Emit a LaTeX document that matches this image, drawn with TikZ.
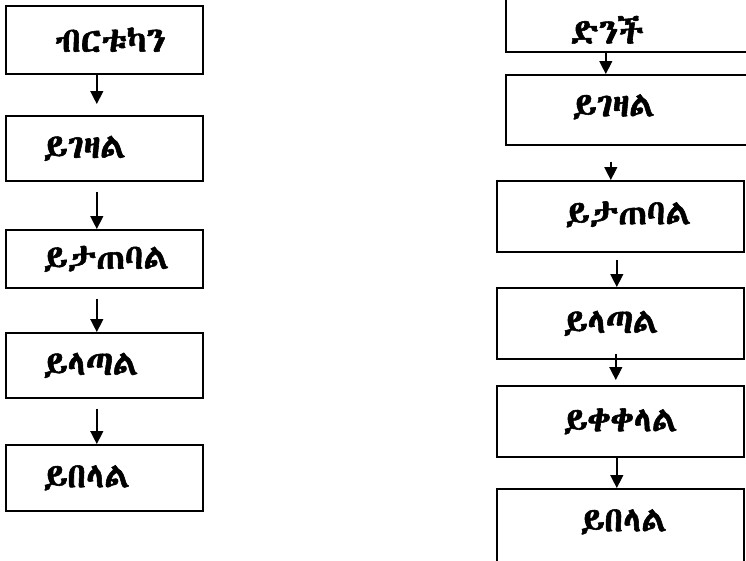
\documentclass[tikz,border=0pt]{standalone}
\usepackage{fontspec}
\newfontfamily\ethfont{Abyssinica SIL}[FakeBold=1.6]
\usetikzlibrary{arrows.meta}
\tikzset{
  box/.style={draw, line width=1.6pt, inner sep=0pt, anchor=north west},
  txt/.style={anchor=west, inner sep=0pt, font=\ethfont\fontsize{35}{40}\selectfont},
  arr/.style={line width=1.4pt, -{Triangle[width=13pt,length=13pt]}}
}
\begin{document}
\begin{tikzpicture}[x=1pt,y=-1pt]
\useasboundingbox (0,0) rectangle (746,560);
% left column
\node[box, minimum width=197pt, minimum height=68pt] (l1) at (5,5) {};
\node[box, minimum width=197pt, minimum height=65pt] (l2) at (5,115) {};
\node[box, minimum width=197pt, minimum height=58pt] (l3) at (5,229) {};
\node[box, minimum width=197pt, minimum height=65pt] (l4) at (5,332) {};
\node[box, minimum width=197pt, minimum height=66pt] (l5) at (5,444) {};
\node[txt] (l1t) at ([xshift=50pt]l1.west) {ብርቱካን};
\node[txt] (l2t) at ([xshift=38pt]l2.west) {ይገዛል};
\node[txt] (l3t) at ([xshift=38pt]l3.west) {ይታጠባል};
\node[txt] (l4t) at ([xshift=38pt]l4.west) {ይላጣል};
\node[txt] (l5t) at ([xshift=38pt]l5.west) {ይበላል};
\draw[arr, shorten >=11pt] ([xshift=-7.5pt]l1.south) -- ([xshift=-7.5pt]l2.north);
\draw[arr, shorten <=10pt] ([xshift=-7.5pt]l2.south) -- ([xshift=-7.5pt]l3.north);
\draw[arr, shorten <=10pt] ([xshift=-7.5pt]l3.south) -- ([xshift=-7.5pt]l4.north);
\draw[arr, shorten <=10pt] ([xshift=-7.5pt]l4.south) -- ([xshift=-7.5pt]l5.north);
% right column
\node[box, minimum width=250pt, minimum height=61pt] (r1) at (505,-10) {};
\node[box, minimum width=250pt, minimum height=70pt] (r2) at (505,74) {};
\node[box, minimum width=247pt, minimum height=71pt] (r3) at (496,180) {};
\node[box, minimum width=247pt, minimum height=71pt] (r4) at (496,287) {};
\node[box, minimum width=247pt, minimum height=71pt] (r5) at (496,385) {};
\node[box, minimum width=247pt, minimum height=90pt] (r6) at (496,488) {};
\node[txt] (r1t) at ([xshift=65pt,yshift=-8.5pt]r1.west) {ድንች};
\node[txt] (r2t) at ([xshift=67pt,yshift=3pt]r2.west) {ይገዛል};
\node[txt] (r3t) at ([xshift=69pt,yshift=2pt]r3.west) {ይታጠባል};
\node[txt] (r4t) at ([xshift=67pt]r4.west) {ይላጣል};
\node[txt] (r5t) at ([xshift=67pt]r5.west) {ይቀቀላል};
\node[txt] (r6t) at ([xshift=84pt,yshift=12pt]r6.west) {ይበላል};
\draw[arr] ([xshift=-25pt]r1.south) -- ([xshift=-25pt]r2.north);
\draw[arr, shorten <=16pt] ([xshift=-20pt]r2.south) -- ([xshift=-9.5pt]r3.north);
\draw[arr, shorten <=7pt] ([xshift=-3.5pt]r3.south) -- ([xshift=-3.5pt]r4.north);
\draw[arr, shorten <=-6pt, shorten >=5pt] ([xshift=-4.5pt]r4.south) -- ([xshift=-4.5pt]r5.north);
\draw[arr] ([xshift=-3.5pt]r5.south) -- ([xshift=-3.5pt]r6.north);
\end{tikzpicture}
\end{document}
